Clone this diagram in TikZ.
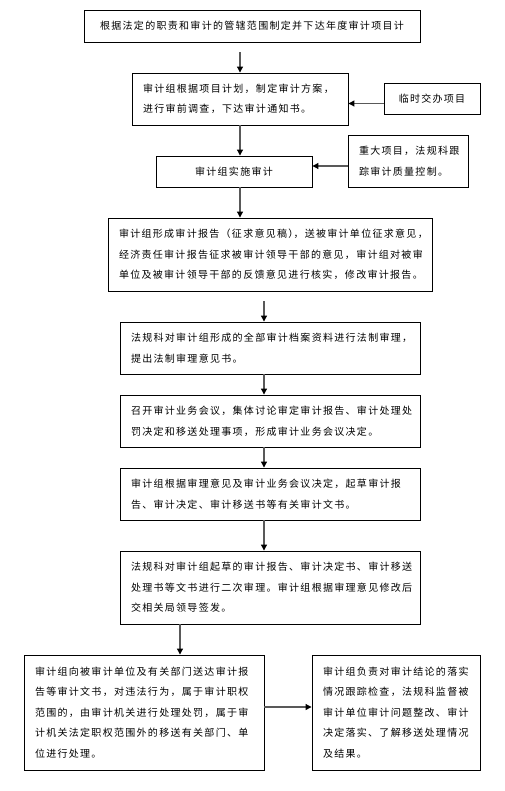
\documentclass[tikz,border=0pt]{standalone}
\usepackage{fontspec}
\newfontfamily\cjk[LetterSpace=13]{Noto Sans CJK SC}
\usetikzlibrary{arrows.meta}

\begin{document}
\begin{tikzpicture}[x=1pt, y=-1pt, >={Triangle[length=6pt,width=6pt,color=black]},
    box/.style={draw, line width=0.9pt, inner xsep=11pt, inner ysep=0pt, align=left,
      font=\cjk\fontsize{10}{20.6}\selectfont},
    flow/.style={->, draw=gray!70!black, line width=1.1pt}]
    \useasboundingbox (0,0) rectangle (504,791);

    % main column
    \node[box, align=center, minimum width=336pt, minimum height=32pt] (annual) at (252,26)
      {根据法定的职责和审计的管辖范围制定并下达年度审计项目计};
    \node[box, text width=194pt, minimum height=52pt] (plan) at (240,99)
      {审计组根据项目计划，制定审计方案，\\进行审前调查，下达审计通知书。};
    \node[box, align=center, minimum width=96pt, minimum height=31pt] (temp) at (432,98.5) {临时交办项目};
    \node[box, align=center, minimum width=156pt, minimum height=31pt] (impl) at (234,171.5) {审计组实施审计};
    \node[box, text width=98pt, minimum height=52pt] (major) at (408,161)
      {重大项目，法规科跟\\踪审计质量控制。};
    \node[box, text width=302pt, minimum height=73pt] (report) at (270,254.5)
      {审计组形成审计报告（征求意见稿）\kern-5pt，送被审计单位征求意见，\\经济责任审计报告征求被审计领导干部的意见，审计组对被审\\单位及被审计领导干部的反馈意见进行核实，修改审计报告。};
    \node[box, text width=278pt, minimum height=52pt] (legal) at (270,348)
      {法规科对审计组形成的全部审计档案资料进行法制审理，\\提出法制审理意见书。};
    \node[box, text width=278pt, minimum height=52pt] (meeting) at (270,421)
      {召开审计业务会议，集体讨论审定审计报告、审计处理处\\罚决定和移送处理事项，形成审计业务会议决定。};
    \node[box, text width=278pt, minimum height=52pt] (draft) at (270,494)
      {审计组根据审理意见及审计业务会议决定，起草审计报\\告、审计决定、审计移送书等有关审计文书。};
    \node[box, text width=278pt, minimum height=73pt] (review) at (270,587.5)
      {法规科对审计组起草的审计报告、审计决定书、审计移送\\处理书等文书进行二次审理。审计组根据审理意见修改后\\交相关局领导签发。};
    \node[box, text width=218pt, minimum height=115pt] (deliver) at (144,712.5)
      {审计组向被审计单位及有关部门送达审计报\\告等审计文书，对违法行为，属于审计职权\\范围的，由审计机关进行处理处罚，属于审\\计机关法定职权范围外的移送有关部门、单\\位进行处理。};
    \node[box, text width=146pt, minimum height=115pt] (follow) at (396,712.5)
      {审计组负责对审计结论的落实\\情况跟踪检查，法规科监督被\\审计单位审计问题整改、审计\\决定落实、了解移送处理情况\\及结果。};

    % arrows
    \draw[flow] ([yshift=-10pt]annual.south -| plan.north) -- (plan.north);
    \draw[flow] ([yshift=-5pt]temp.west) -- ([yshift=-5pt]temp.west -| plan.east);
    \draw[flow] (plan.south) -- (plan.south |- impl.north);
    \draw[flow] ([yshift=-5pt]major.west) -- ([yshift=-5pt]major.west -| impl.east);
    \draw[flow] (plan.south |- impl.south) -- (plan.south |- report.north);
    \draw[flow] ([xshift=-6pt,yshift=-10pt]report.south) -- ([xshift=-6pt]legal.north);
    \draw[flow] ([xshift=-6pt]legal.south) -- ([xshift=-6pt]meeting.north);
    \draw[flow] ([xshift=-6pt]meeting.south) -- ([xshift=-6pt]draft.north);
    \draw[flow] ([xshift=-6pt]draft.south) -- ([xshift=-6pt]review.north);
    \draw[flow] ([xshift=36pt]deliver.north |- review.south) -- ([xshift=36pt]deliver.north);
    \draw[flow] ([yshift=5.5pt]deliver.east) -- ([yshift=5.5pt]deliver.east -| follow.west);
\end{tikzpicture}
\end{document}
